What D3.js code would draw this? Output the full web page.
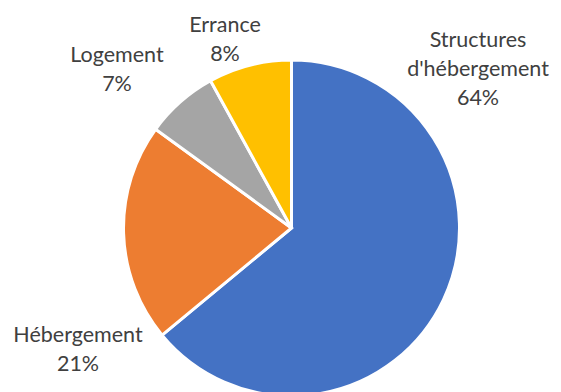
<!DOCTYPE html>
<html><head><meta charset="utf-8">
<script src="https://cdn.jsdelivr.net/npm/d3@7"></script>
<style>html,body{margin:0;padding:0;background:#fff;overflow:hidden}</style>
</head><body>
<svg id="c" width="561" height="392"></svg>
<script>
const categories = ["Structures d'hébergement", "Hébergement", "Logement", "Errance"];
const labelLines = [["Structures", "d'hébergement"], ["Hébergement"], ["Logement"], ["Errance"]];
const values = [64, 21, 7, 8];
const colors = ["#4472C4", "#ED7D31", "#A5A5A5", "#FFC000"];

const W = 561, H = 392, cx = 291.5, cy = 228, R = 168;
const svg = d3.select("#c");
const g = svg.append("g").attr("transform", `translate(${cx},${cy})`);
const pie = d3.pie().sort(null).value(d => d)(values);
const arc = d3.arc().innerRadius(0).outerRadius(R);
g.selectAll("path").data(pie).join("path")
  .attr("d", arc).attr("fill", (d, i) => colors[i])
  .attr("stroke", "#fff").attr("stroke-width", 3).attr("stroke-linejoin", "miter");

// label anchor positions (center x, first baseline) relative to chart
const labelPos = [[478, 47], [78, 342], [117, 62], [225, 32]];
const lineH = 29;
const total = d3.sum(values);
const fmt = d3.format(".0%");
labelPos.forEach((p, i) => {
  const lines = labelLines[i].concat([fmt(values[i] / total)]);
  const t = svg.append("text").attr("text-anchor", "middle")
    .attr("font-family", "Lato, 'Noto Sans', sans-serif").attr("font-size", 21.5)
    .attr("fill", "#404040");
  lines.forEach((l, j) => t.append("tspan").attr("x", p[0]).attr("y", p[1] + j * lineH).text(l));
});
</script>
</body></html>
